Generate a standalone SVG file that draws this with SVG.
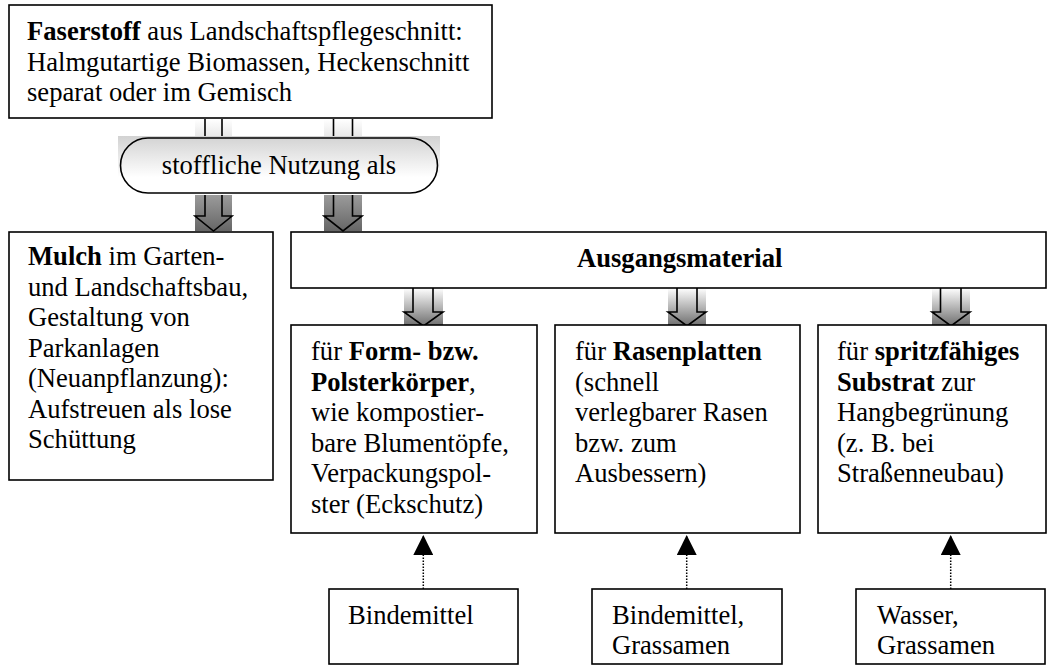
<svg xmlns="http://www.w3.org/2000/svg" width="1056" height="666" viewBox="0 0 1056 666">
<style>
.box{fill:#fff;stroke:#000;stroke-width:1.6}
.t{font-family:"Liberation Serif","Times New Roman",serif;font-size:26.6px;fill:#000}
.b{font-weight:bold}
.blk{fill:none;stroke:#000;stroke-width:1.6;stroke-linejoin:miter}
.dot{stroke:#000;stroke-width:1.5;stroke-dasharray:1.5 1.5;fill:none}
</style>
<defs>
<linearGradient id="gBig" x1="0" y1="0" x2="0" y2="1">
<stop offset="0" stop-color="#fff"/>
<stop offset="0.6" stop-color="#a8a8a8"/>
<stop offset="1" stop-color="#666"/>
</linearGradient>
<linearGradient id="gSmall" x1="0" y1="0" x2="0" y2="1">
<stop offset="0" stop-color="#fff"/>
<stop offset="1" stop-color="#6e6e6e"/>
</linearGradient>
<linearGradient id="gPill" x1="0" y1="0" x2="0" y2="1">
<stop offset="0" stop-color="#d2d2d2"/>
<stop offset="0.7" stop-color="#fff"/>
<stop offset="1" stop-color="#fff"/>
</linearGradient>
<marker id="tri" markerUnits="userSpaceOnUse" markerWidth="20" markerHeight="20" refX="20" refY="10" orient="auto">
<path d="M0,0 L20,10 L0,20 z" fill="#000"/>
</marker>
</defs>

<g id="connectors">
<g id="arrow-mulch">
<rect x="195" y="119" width="37" height="112" fill="url(#gBig)"/>
<path class="blk" d="M205,119 V216 H195 L213.5,231 L232,216 H222 V119"/>
</g>
<g id="arrow-ausgang">
<rect x="324" y="119" width="38" height="112" fill="url(#gBig)"/>
<path class="blk" d="M333.5,119 V216 H324 L343,231 L362,216 H352.5 V119"/>
</g>
<g id="arrow-form">
<rect x="404" y="288" width="39" height="38" fill="url(#gSmall)"/>
<path class="blk" d="M413,288 V312 H404 L423.5,326 L443,312 H433 V288"/>
</g>
<g id="arrow-rasen">
<rect x="668" y="288" width="38" height="38" fill="url(#gSmall)"/>
<path class="blk" d="M677,288 V312 H668 L687,326 L706,312 H697 V288"/>
</g>
<g id="arrow-substrat">
<rect x="932" y="288" width="38" height="38" fill="url(#gSmall)"/>
<path class="blk" d="M940.5,288 V312 H932 L951,326 L970,312 H961 V288"/>
</g>
<path class="dot" d="M423.3,589 V535" marker-end="url(#tri)"/>
<path class="dot" d="M686.7,589 V535" marker-end="url(#tri)"/>
<path class="dot" d="M950.7,589 V535" marker-end="url(#tri)"/>
</g>

<g id="node-faserstoff">
<rect class="box" x="9" y="5" width="483" height="113"/>
<text class="t" x="27" y="40"><tspan class="b">Faserstoff</tspan> aus Landschaftspflegeschnitt:</text>
<text class="t" x="27" y="71">Halmgutartige Biomassen, Heckenschnitt</text>
<text class="t" x="27" y="101">separat oder im Gemisch</text>
</g>

<g id="node-nutzung">
<rect x="118" y="136" width="322" height="59" fill="url(#gPill)"/>
<rect x="120.5" y="138" width="317" height="55" rx="27.5" ry="27.5" fill="none" stroke="#000" stroke-width="1.6"/>
<text class="t" x="279" y="174" text-anchor="middle">stoffliche Nutzung als</text>
</g>

<g id="node-mulch">
<rect class="box" x="9" y="232" width="264" height="248"/>
<text class="t" x="28" y="265"><tspan class="b">Mulch</tspan> im Garten-</text>
<text class="t" x="28" y="295.5">und Landschaftsbau,</text>
<text class="t" x="28" y="326">Gestaltung von</text>
<text class="t" x="28" y="356.5">Parkanlagen</text>
<text class="t" x="28" y="387">(Neuanpflanzung):</text>
<text class="t" x="28" y="417.5">Aufstreuen als lose</text>
<text class="t" x="28" y="448">Schüttung</text>
</g>

<g id="node-ausgangsmaterial">
<rect class="box" x="291" y="232" width="755" height="56"/>
<text class="t b" x="577" y="267">Ausgangsmaterial</text>
</g>

<g id="node-form">
<rect class="box" x="291" y="325" width="246" height="208"/>
<text class="t" x="311" y="360">für <tspan class="b">Form- bzw.</tspan></text>
<text class="t" x="311" y="390.6"><tspan class="b">Polsterkörper</tspan>,</text>
<text class="t" x="311" y="421.2">wie kompostier-</text>
<text class="t" x="311" y="451.8">bare Blumentöpfe,</text>
<text class="t" x="311" y="482.4">Verpackungspol-</text>
<text class="t" x="311" y="513">ster (Eckschutz)</text>
</g>

<g id="node-rasen">
<rect class="box" x="555" y="325" width="245" height="208"/>
<text class="t" x="575" y="360">für <tspan class="b">Rasenplatten</tspan></text>
<text class="t" x="575" y="390.6">(schnell</text>
<text class="t" x="575" y="421.2">verlegbarer Rasen</text>
<text class="t" x="575" y="451.8">bzw. zum</text>
<text class="t" x="575" y="482.4">Ausbessern)</text>
</g>

<g id="node-substrat">
<rect class="box" x="818" y="325" width="228" height="208"/>
<text class="t" x="837" y="360">für <tspan class="b">spritzfähiges</tspan></text>
<text class="t" x="837" y="390.6"><tspan class="b">Substrat</tspan> zur</text>
<text class="t" x="837" y="421.2">Hangbegrünung</text>
<text class="t" x="837" y="451.8">(z. B. bei</text>
<text class="t" x="837" y="482.4">Straßenneubau)</text>
</g>

<g id="node-bindemittel">
<rect class="box" x="329" y="589" width="189" height="75"/>
<text class="t" x="348" y="624">Bindemittel</text>
</g>

<g id="node-bindemittel-grassamen">
<rect class="box" x="592" y="589" width="190" height="75"/>
<text class="t" x="612" y="624">Bindemittel,</text>
<text class="t" x="612" y="654">Grassamen</text>
</g>

<g id="node-wasser-grassamen">
<rect class="box" x="856" y="589" width="189" height="75"/>
<text class="t" x="877" y="624">Wasser,</text>
<text class="t" x="877" y="654">Grassamen</text>
</g>
</svg>
